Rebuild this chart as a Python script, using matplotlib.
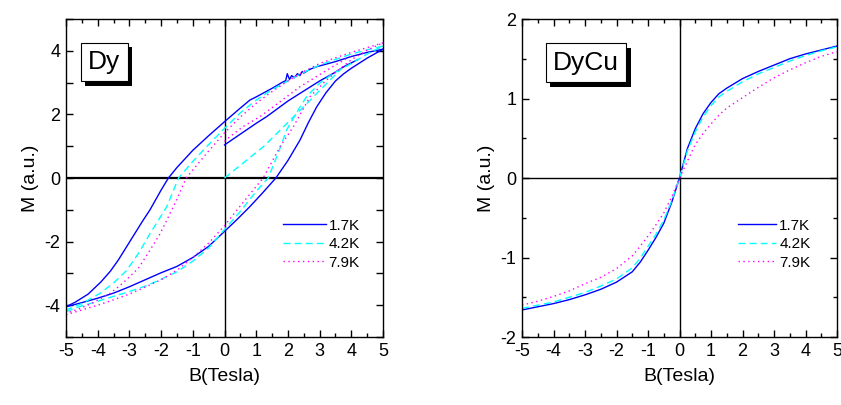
import matplotlib
matplotlib.use("Agg")
import matplotlib.pyplot as plt
from matplotlib.ticker import MultipleLocator
import matplotlib.patheffects as pe

plt.rcParams['font.family'] = ['Liberation Sans', 'DejaVu Sans']
plt.rcParams['axes.unicode_minus'] = False

# ---------------- Dy data ----------------
labels = ['1.7K', '4.2K', '7.9K']
colors = ['#0000FF', '#00FFFF', '#FF00FF']

# 1.7 K
dy17_up_x = [5, 4.5, 4, 3.5, 2.91, 2.7, 2.5, 2.45, 2.38, 2.3, 2.2, 2.12, 2.05, 1.98, 1.93, 1.86, 1.5, 1.0, 0.8, 0.5, 0, -0.5, -1.0, -1.5, -1.77, -2.0, -2.35, -2.6, -2.8, -3.1, -3.35, -3.6, -3.9, -4.3, -4.7, -5]
dy17_up_y = [4.05, 3.95, 3.82, 3.66, 3.5, 3.42, 3.3, 3.35, 3.22, 3.28, 3.15, 3.22, 3.1, 3.28, 3.06, 3.03, 2.82, 2.55, 2.45, 2.2, 1.77, 1.33, 0.87, 0.33, 0.0, -0.38, -1.0, -1.38, -1.7, -2.18, -2.58, -2.93, -3.27, -3.65, -3.9, -4.05]
dy17_lo_x = [-5, -4.5, -4, -3.5, -3, -2.5, -2, -1.5, -1, -0.5, 0, 0.4, 0.8, 1.2, 1.62, 2.0, 2.38, 2.65, 2.91, 3.2, 3.5, 3.75, 4.0, 4.5, 5]
dy17_lo_y = [-4.05, -3.92, -3.78, -3.62, -3.42, -3.2, -2.98, -2.78, -2.5, -2.15, -1.68, -1.3, -0.9, -0.47, 0.0, 0.55, 1.19, 1.75, 2.24, 2.68, 3.05, 3.27, 3.45, 3.77, 4.05]
dy17_vi_x = [0, 0.5, 1.0, 1.33, 2.0, 2.38, 3.0, 3.43, 3.8, 4.2]
dy17_vi_y = [1.04, 1.38, 1.72, 1.93, 2.42, 2.66, 3.05, 3.29, 3.52, 3.72]

# 4.2 K
dy42_up_x = [5, 4.5, 4, 3.5, 3, 2.5, 2, 1.5, 1, 0.5, 0, -0.5, -1, -1.45, -1.82, -2.35, -2.7, -3.1, -3.5, -3.93, -4.5, -5]
dy42_up_y = [4.15, 4.03, 3.9, 3.73, 3.55, 3.32, 3.05, 2.78, 2.45, 2.05, 1.56, 1.05, 0.52, 0.0, -0.9, -1.75, -2.35, -2.92, -3.3, -3.63, -3.95, -4.15]
dy42_lo_x = [-5, -4.5, -4.14, -3.5, -3.09, -2.5, -2.03, -1.5, -0.98, -0.5, 0, 0.5, 1.0, 1.38, 1.7, 1.96, 2.3, 2.59, 3.0, 3.43, 4.0, 4.5, 5]
dy42_lo_y = [-4.2, -4.02, -3.92, -3.72, -3.6, -3.4, -3.2, -2.95, -2.6, -2.2, -1.62, -1.05, -0.42, 0.0, 0.8, 1.51, 2.1, 2.56, 2.98, 3.29, 3.6, 3.9, 4.15]
dy42_vi_x = [0, 0.6, 1.22, 1.65, 2.07, 2.5, 2.91, 3.43, 3.7]
dy42_vi_y = [0, 0.48, 0.98, 1.4, 1.82, 2.24, 2.66, 3.18, 3.45]

# 7.9 K
dy79_up_x = [5, 4.5, 4, 3.5, 3, 2.5, 2, 1.5, 1, 0.5, 0, -0.5, -1.0, -1.21, -1.51, -2.03, -2.4, -2.72, -3.2, -3.61, -4.2, -4.6, -5]
dy79_up_y = [4.25, 4.1, 3.95, 3.78, 3.6, 3.35, 3.05, 2.72, 2.35, 1.92, 1.42, 0.85, 0.25, 0.0, -0.69, -1.75, -2.35, -2.84, -3.3, -3.63, -3.95, -4.12, -4.25]
dy79_lo_x = [-5, -4.5, -4.0, -3.5, -3.0, -2.5, -2.0, -1.5, -1.0, -0.5, 0, 0.6, 1.22, 1.75, 2.17, 2.7, 3.22, 3.6, 4.0, 4.5, 5]
dy79_lo_y = [-4.3, -4.15, -4.0, -3.83, -3.65, -3.43, -3.2, -2.9, -2.5, -2.05, -1.5, -0.75, 0.0, 0.98, 1.61, 2.56, 3.08, 3.4, 3.72, 4.02, 4.25]
dy79_vi_x = [0, 0.17, 0.59, 1.12, 1.54, 2.38, 3.0, 3.5, 4.0]
dy79_vi_y = [1.15, 1.3, 1.62, 1.93, 2.24, 2.87, 3.25, 3.55, 3.85]

# ---------------- DyCu data ----------------
cu_x   = [-5, -4.5, -4, -3.5, -3, -2.5, -2, -1.5, -1.25, -1, -0.75, -0.5, -0.25, 0, 0.25, 0.5, 0.75, 1, 1.25, 1.5, 2, 2.5, 3, 3.5, 4, 4.5, 5]
cu17_y = [-1.66, -1.62, -1.58, -1.53, -1.47, -1.40, -1.31, -1.18, -1.06, -0.91, -0.75, -0.57, -0.31, 0.0, 0.37, 0.62, 0.81, 0.95, 1.06, 1.13, 1.25, 1.34, 1.42, 1.50, 1.56, 1.61, 1.66]
cu42_y = [-1.64, -1.60, -1.56, -1.50, -1.44, -1.36, -1.27, -1.13, -1.01, -0.86, -0.71, -0.53, -0.29, 0.0, 0.34, 0.58, 0.77, 0.91, 1.02, 1.09, 1.21, 1.31, 1.39, 1.47, 1.54, 1.60, 1.65]
cu79_y = [-1.60, -1.55, -1.49, -1.42, -1.33, -1.25, -1.14, -0.98, -0.86, -0.73, -0.59, -0.44, -0.24, 0.0, 0.21, 0.42, 0.56, 0.68, 0.79, 0.88, 1.01, 1.14, 1.26, 1.36, 1.45, 1.53, 1.59]

styles = [dict(linestyle='-'), dict(linestyle=(0, (5, 3))), dict(linestyle=(0, (1, 2.5)))]

fig = plt.figure(figsize=(8.41, 4.05), dpi=100)
W, H = 841, 405
ax1 = fig.add_axes([66 / W, 1 - 337 / H, 317 / W, 318 / H])
ax2 = fig.add_axes([522 / W, 1 - 337 / H, 315 / W, 318 / H])

dy_sets = [
    (dy17_up_x, dy17_up_y, dy17_lo_x, dy17_lo_y, dy17_vi_x, dy17_vi_y),
    (dy42_up_x, dy42_up_y, dy42_lo_x, dy42_lo_y, dy42_vi_x, dy42_vi_y),
    (dy79_up_x, dy79_up_y, dy79_lo_x, dy79_lo_y, dy79_vi_x, dy79_vi_y),
]

lw = 1.0
handles1 = []
for i, (ux, uy, lx, ly, vx, vy) in enumerate(dy_sets):
    h, = ax1.plot(ux, uy, color=colors[i], lw=lw, label=labels[i], **styles[i])
    ax1.plot(lx, ly, color=colors[i], lw=lw, **styles[i])
    ax1.plot(vx, vy, color=colors[i], lw=lw, **styles[i])
    handles1.append(h)

handles2 = []
for i, cy in enumerate([cu17_y, cu42_y, cu79_y]):
    h, = ax2.plot(cu_x, cy, color=colors[i], lw=lw, label=labels[i], **styles[i])
    handles2.append(h)

for ax, ylim in ((ax1, (-5, 5)), (ax2, (-2, 2))):
    ax.set_xlim(-5, 5)
    ax.set_ylim(*ylim)
    ax.axhline(0, color='black', lw=1.6 if ax is ax1 else 1.0, zorder=1)
    ax.axvline(0, color='black', lw=1.0, zorder=1)
    ax.xaxis.set_major_locator(MultipleLocator(1))
    ax.xaxis.set_minor_locator(MultipleLocator(0.5))
    ax.tick_params(which='both', direction='in', top=True, right=True, labelsize=13, pad=4)
    ax.tick_params(which='major', length=5, width=1)
    ax.tick_params(which='minor', length=3, width=1)
    for s in ax.spines.values():
        s.set_linewidth(1.0)
    ax.set_xlabel('B(Tesla)', fontsize=14, labelpad=6)
    ax.set_ylabel('M (a.u.)', fontsize=14, labelpad=4)

ax1.yaxis.set_major_locator(MultipleLocator(2))
ax1.yaxis.set_minor_locator(MultipleLocator(1))
ax1.tick_params(axis='y', which='minor', length=5)
ax2.yaxis.set_major_locator(MultipleLocator(1))
ax2.yaxis.set_minor_locator(MultipleLocator(0.5))

ax1.legend(handles=handles1, loc='center left', bbox_to_anchor=(0.684, 0.292), frameon=False,
           fontsize=11, handlelength=2.8, handletextpad=0.2, labelspacing=0.3,
           borderaxespad=0, borderpad=0)
ax2.legend(handles=handles2, loc='center left', bbox_to_anchor=(0.686, 0.292), frameon=False,
           fontsize=11, handlelength=2.5, handletextpad=0.2, labelspacing=0.3,
           borderaxespad=0, borderpad=0)

def label_box(ax, txt, x, y):
    t = ax.text(x, y, txt, transform=ax.transAxes, ha='center', va='center',
                fontsize=19, color='black', zorder=6,
                bbox=dict(boxstyle='square,pad=0.28', fc='white', ec='black', lw=0.8))
    t.get_bbox_patch().set_path_effects([
        pe.SimplePatchShadow(offset=(3, -3.5), shadow_rgbFace='black', alpha=1.0),
        pe.Normal()])

label_box(ax1, 'Dy', 0.12, 0.865)
label_box(ax2, 'DyCu', 0.203, 0.862)

fig.savefig('out.png', dpi=100)
